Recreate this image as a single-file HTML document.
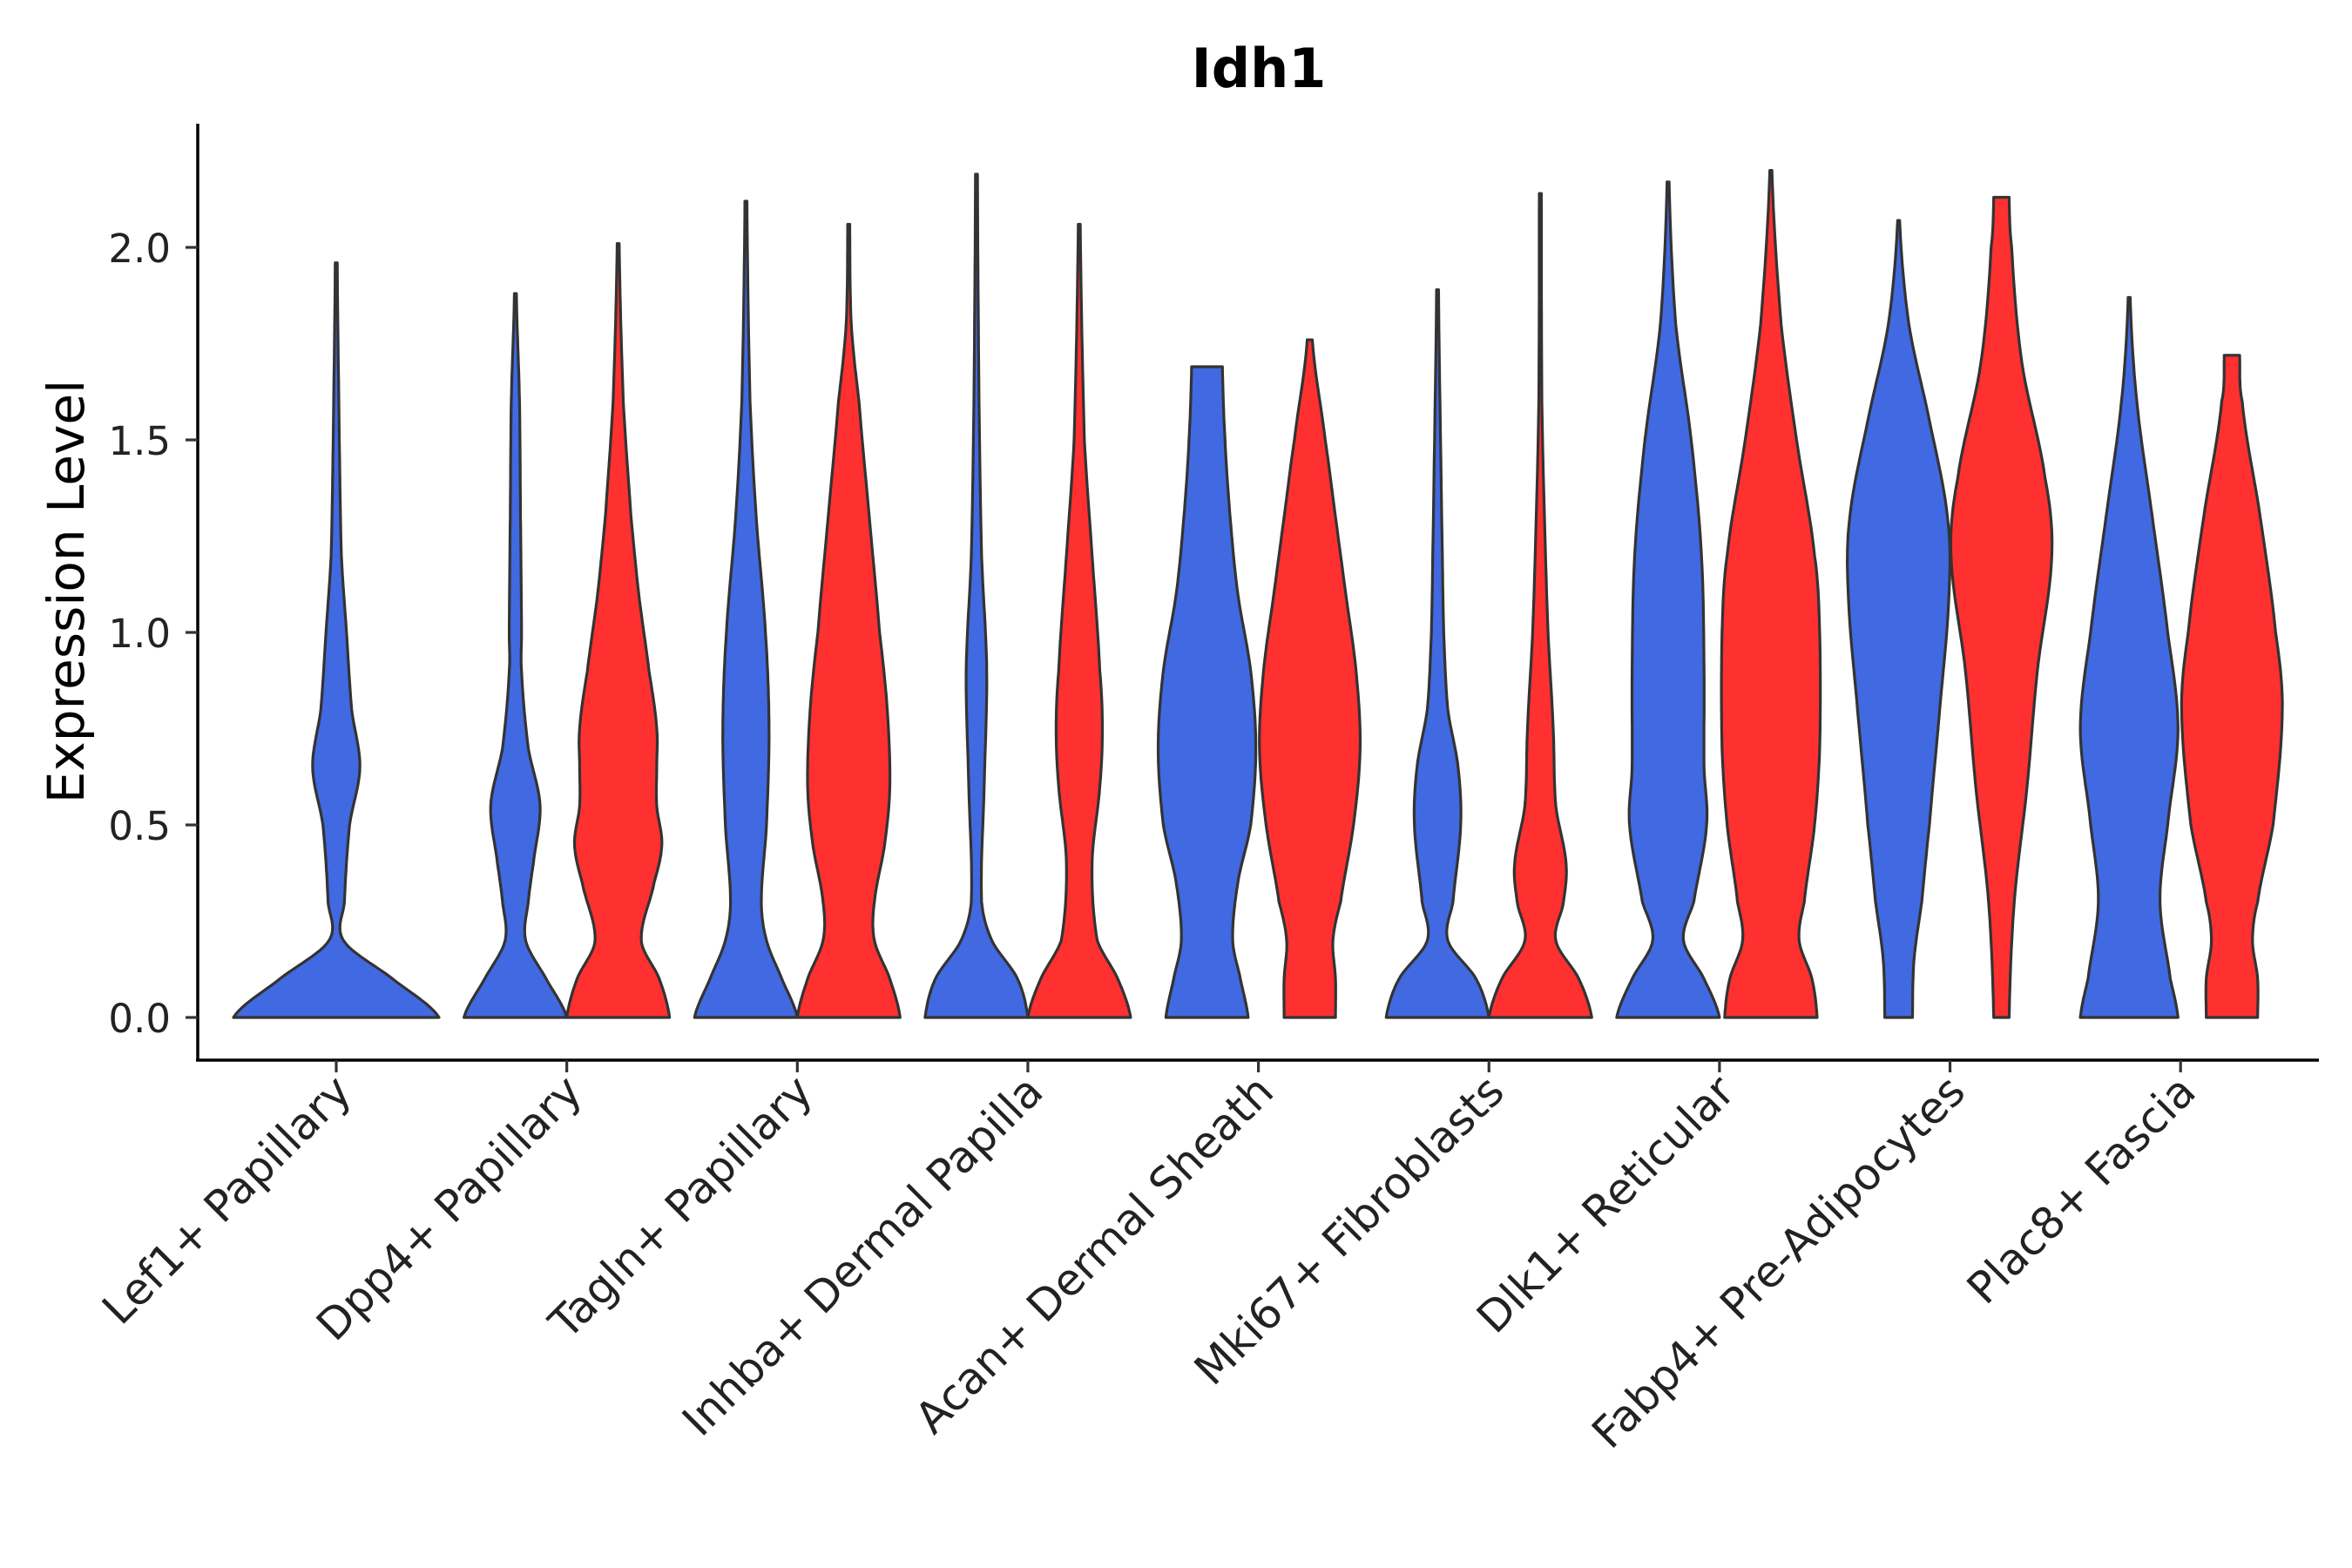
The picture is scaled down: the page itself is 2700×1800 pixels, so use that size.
<!DOCTYPE html>
<html><head><meta charset="utf-8"><style>
html,body{margin:0;padding:0;background:#fff;}
svg{display:block;font-family:"DejaVu Sans","Liberation Sans",sans-serif;}
</style></head><body>
<svg id="chart" width="2700" height="1800" viewBox="0 0 2700 1800" xmlns="http://www.w3.org/2000/svg">
<text x="1445" y="100" font-size="62" font-weight="bold" text-anchor="middle">Idh1</text>
<text transform="translate(96,679) rotate(-90)" font-size="58" text-anchor="middle" fill="#000">Expression Level</text>
<g id="marks"></g>
<g id="axes"></g>
</svg>
<script>
const categories = ["Lef1+ Papillary","Dpp4+ Papillary","Tagln+ Papillary","Inhba+ Dermal Papilla","Acan+ Dermal Sheath","Mki67+ Fibroblasts","Dlk1+ Reticular","Fabp4+ Pre-Adipocytes","Plac8+ Fascia"];
const yTicks = [0, 0.5, 1.0, 1.5, 2.0];
const yTickLabels = ["0.0","0.5","1.0","1.5","2.0"];
const blueLevels = [
 [0,0.1,0.2,0.3,0.5,0.65,0.8,1.0,1.2,1.5,1.96],
 [0,0.1,0.2,0.3,0.4,0.55,0.7,0.9,1.0,1.3,1.6,1.88],
 [0,0.1,0.2,0.3,0.5,0.75,1.0,1.3,1.6,2.12],
 [0,0.1,0.2,0.3,0.6,0.9,1.2,1.6,2.19],
 [0,0.1,0.2,0.35,0.5,0.7,0.9,1.1,1.3,1.5,1.69],
 [0,0.1,0.2,0.3,0.5,0.65,0.8,1.0,1.3,1.89],
 [0,0.1,0.2,0.3,0.5,0.65,0.9,1.2,1.5,1.8,2.17],
 [0,0.15,0.3,0.5,0.8,1.1,1.3,1.55,1.8,2.07],
 [0,0.1,0.3,0.5,0.75,1.0,1.3,1.6,1.87]
];
const blueWidths = [
 [1,0.55,0.07,0.08,0.13,0.23,0.15,0.1,0.05,0.03,0.01],
 [1,0.6,0.2,0.25,0.35,0.48,0.25,0.12,0.12,0.1,0.08,0.02],
 [1,0.7,0.4,0.3,0.4,0.45,0.38,0.2,0.08,0.02],
 [1,0.8,0.3,0.1,0.15,0.2,0.1,0.05,0.02],
 [0.8,0.65,0.5,0.6,0.85,0.95,0.85,0.6,0.45,0.35,0.3],
 [1,0.75,0.2,0.3,0.45,0.4,0.2,0.12,0.08,0.02],
 [1,0.7,0.3,0.5,0.75,0.7,0.7,0.65,0.45,0.15,0.02],
 [0.27,0.3,0.45,0.6,0.8,0.98,0.95,0.6,0.2,0.02],
 [0.95,0.8,0.6,0.75,0.95,0.75,0.45,0.15,0.02]
];
const redLevels = [
 null,
 [0,0.1,0.2,0.35,0.45,0.55,0.65,0.75,0.9,1.1,1.3,1.6,2.01],
 [0,0.1,0.2,0.3,0.45,0.6,0.8,1.0,1.3,1.6,1.8,2.06],
 [0,0.1,0.2,0.4,0.6,0.75,0.9,1.2,1.5,2.06],
 [0,0.1,0.2,0.3,0.5,0.7,0.9,1.1,1.3,1.5,1.76],
 [0,0.1,0.2,0.3,0.4,0.55,0.75,1.0,1.3,1.6,2.14],
 [0,0.1,0.2,0.3,0.5,0.7,1.0,1.2,1.5,1.8,2.2],
 [0,0.3,0.6,0.9,1.2,1.4,1.7,2.0,2.13],
 [0,0.1,0.2,0.3,0.5,0.8,1.0,1.3,1.6,1.72]
];
const redWidths = [
 null,
 [1,0.8,0.45,0.7,0.85,0.75,0.75,0.75,0.6,0.4,0.25,0.1,0.02],
 [1,0.8,0.5,0.5,0.7,0.8,0.75,0.6,0.4,0.2,0.05,0.02],
 [1,0.75,0.35,0.25,0.4,0.45,0.4,0.25,0.1,0.02],
 [0.5,0.5,0.45,0.6,0.85,0.98,0.9,0.7,0.5,0.3,0.05],
 [1,0.75,0.3,0.45,0.5,0.3,0.25,0.15,0.08,0.03,0.02],
 [0.9,0.8,0.55,0.65,0.85,0.95,0.95,0.85,0.5,0.2,0.02],
 [0.15,0.25,0.5,0.7,0.98,0.85,0.4,0.2,0.15],
 [0.5,0.5,0.4,0.5,0.8,0.98,0.85,0.55,0.2,0.15]
];

const NS="http://www.w3.org/2000/svg";
const X0=386, DX=264.65, OFF=59, HW=59;
const Y0=1168, YU=442;
function xScale(i){return X0+i*DX;}
function yScale(v){return Y0-v*YU;}
function interp(levels,widths){
  const pts=[];
  const n=levels.length;
  for(let i=0;i<n-1;i++){
    const p0=widths[Math.max(i-1,0)],p1=widths[i],p2=widths[i+1],p3=widths[Math.min(i+2,n-1)];
    for(let s=0;s<12;s++){
      const t=s/12;
      const w=0.5*((2*p1)+(-p0+p2)*t+(2*p0-5*p1+4*p2-p3)*t*t+(-p0+3*p1-3*p2+p3)*t*t*t);
      pts.push([levels[i]+(levels[i+1]-levels[i])*t,Math.max(0.008,w)]);
    }
  }
  pts.push([levels[n-1],widths[n-1]]);
  return pts;
}
function violin(cx,hw,levels,widths,color,name){
  const pts=interp(levels,widths);
  let d="";
  pts.forEach((p,k)=>{d+=(k?"L":"M")+(cx-p[1]*hw).toFixed(1)+","+yScale(p[0]).toFixed(1);});
  for(let k=pts.length-1;k>=0;k--){const p=pts[k];d+="L"+(cx+p[1]*hw).toFixed(1)+","+yScale(p[0]).toFixed(1);}
  d+="Z";
  const path=document.createElementNS(NS,"path");
  path.setAttribute("d",d);
  path.setAttribute("fill",color);
  path.setAttribute("stroke","#333");
  path.setAttribute("stroke-width","3.2");
  path.setAttribute("stroke-linejoin","round");
  
  
  document.getElementById("marks").appendChild(path);
}
categories.forEach((c,i)=>{
  const slug=c.toLowerCase().replace(/[^a-z0-9]+/g,"-");
  if(!redLevels[i]){
    violin(xScale(i),HW*2,blueLevels[i],blueWidths[i],"#4169E1","violin-"+slug);
  } else {
    violin(xScale(i)-OFF,HW,blueLevels[i],blueWidths[i],"#4169E1","violin-blue-"+slug);
    violin(xScale(i)+OFF,HW,redLevels[i],redWidths[i],"#FF3030","violin-red-"+slug);
  }
});
const ax=document.getElementById("axes");
function mk(tag,attrs){const e=document.createElementNS(NS,tag);for(const k in attrs)e.setAttribute(k,attrs[k]);ax.appendChild(e);return e;}
const yl=mk("line",{x1:227,y1:142,x2:227,y2:1218,stroke:"#000","stroke-width":3.5});


const xl=mk("line",{x1:225,y1:1217,x2:2662,y2:1217,stroke:"#000","stroke-width":3.5});


yTicks.forEach((v,k)=>{
  const t=mk("line",{x1:213,y1:yScale(v),x2:227,y2:yScale(v),stroke:"#333","stroke-width":3.2});
  
  
  const l=mk("text",{x:196,y:yScale(v)+17,"font-size":45,"text-anchor":"end",fill:"#222"});
  l.textContent=yTickLabels[k];
  
  
});
categories.forEach((c,i)=>{
  const x=xScale(i);
  const t=mk("line",{x1:x,y1:1217,x2:x,y2:1231,stroke:"#333","stroke-width":3.2});
  
  
  const l=mk("text",{transform:"translate("+(x+20)+",1256) rotate(-45)","font-size":50,"text-anchor":"end",fill:"#222"});
  l.textContent=c;
  
  
});
</script>
</body></html>
